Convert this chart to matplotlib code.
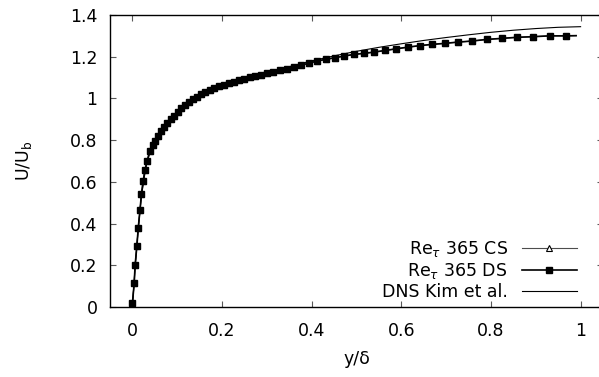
import numpy as np
import matplotlib
matplotlib.use("Agg")
import matplotlib.pyplot as plt

plt.rcParams['font.family'] = ['DejaVu Sans']
plt.rcParams['mathtext.fontset'] = 'dejavusans'
plt.rcParams['font.size'] = 12.5

# Re_tau 365 DS
ds_y = [0.000, 0.004, 0.006, 0.010, 0.013, 0.017, 0.020, 0.024, 0.028, 0.033,
        0.039, 0.045, 0.051, 0.057, 0.064, 0.071, 0.078, 0.085, 0.093, 0.101,
        0.109, 0.117, 0.126, 0.135, 0.144, 0.153, 0.163, 0.173, 0.183, 0.193,
        0.204, 0.215, 0.226, 0.238, 0.250, 0.262, 0.274, 0.287, 0.300, 0.314,
        0.329, 0.344, 0.360, 0.376, 0.393, 0.411, 0.431, 0.451, 0.472, 0.494,
        0.516, 0.539, 0.564, 0.589, 0.615, 0.641, 0.668, 0.697, 0.726, 0.757,
        0.791, 0.825, 0.858, 0.894, 0.931, 0.968, 0.990]
ds_u = [0.018, 0.114, 0.200, 0.292, 0.380, 0.465, 0.540, 0.604, 0.657, 0.700,
        0.750, 0.775, 0.798, 0.820, 0.843, 0.864, 0.883, 0.900, 0.918, 0.936,
        0.952, 0.967, 0.982, 0.996, 1.008, 1.020, 1.031, 1.042, 1.050, 1.058,
        1.066, 1.073, 1.080, 1.087, 1.094, 1.101, 1.107, 1.114, 1.120, 1.127,
        1.135, 1.143, 1.151, 1.160, 1.168, 1.179, 1.187, 1.195, 1.203, 1.211,
        1.216, 1.222, 1.230, 1.238, 1.246, 1.253, 1.259, 1.264, 1.270, 1.275,
        1.283, 1.288, 1.293, 1.296, 1.300, 1.300, 1.301]

# Re_tau 365 CS (lies under the DS curve)
cs_y = ds_y
cs_u = ds_u

# DNS Kim et al.
dns_y = [0.0, 0.005, 0.01, 0.015, 0.02, 0.03, 0.04, 0.05, 0.06, 0.08, 0.1,
         0.12, 0.15, 0.2, 0.25, 0.3, 0.35, 0.4, 0.45, 0.5, 0.55, 0.6, 0.65,
         0.7, 0.75, 0.8, 0.85, 0.9, 0.95, 1.0]
dns_u = [0.0, 0.16, 0.30, 0.42, 0.53, 0.67, 0.75, 0.80, 0.835, 0.89, 0.935,
         0.972, 1.012, 1.063, 1.098, 1.124, 1.152, 1.180, 1.204, 1.226, 1.245,
         1.262, 1.278, 1.292, 1.305, 1.317, 1.327, 1.335, 1.341, 1.344]

fig = plt.figure(figsize=(5.99, 3.77), dpi=100)
ax = fig.add_axes([110/599, 70/377, 493/599, 292/377])

ax.plot(cs_y, cs_u, color='0.3', lw=0.8, marker='^', ms=4, mfc='white',
        mec='black', mew=0.8, markevery=list(range(len(cs_y) - 1)),
        label=r'Re$_{\tau}$ 365 CS', zorder=1)
ax.plot(ds_y, ds_u, color='black', lw=1.2, marker='s', ms=4.8,
        markevery=list(range(len(ds_y) - 1)),
        label=r'Re$_{\tau}$ 365 DS', zorder=3)
ax.plot(dns_y, dns_u, color='black', lw=0.8, label='DNS Kim et al.', zorder=2)

ax.set_xlim(-0.05, 1.05)
ax.set_ylim(0, 1.4)
ax.set_xticks([0, 0.2, 0.4, 0.6, 0.8, 1])
ax.set_xticklabels(['0', '0.2', '0.4', '0.6', '0.8', '1'])
ax.set_yticks([0, 0.2, 0.4, 0.6, 0.8, 1, 1.2, 1.4])
ax.set_yticklabels(['0', '0.2', '0.4', '0.6', '0.8', '1', '1.2', '1.4'])
ax.tick_params(direction='in', top=True, right=True, length=4, width=0.8,
               color='0.35')
ax.tick_params(axis='x', pad=11)
ax.tick_params(axis='y', pad=9)
for s in ax.spines.values():
    s.set_linewidth(1.0)

ax.set_xlabel('y/δ', labelpad=7)
ax.set_ylabel(r'U/U$_\mathrm{b}$', labelpad=26)

ax.legend(loc='lower right', bbox_to_anchor=(0.965, -0.01), frameon=False,
          markerfirst=False, numpoints=1, handlelength=3.2,
          handletextpad=0.8, labelspacing=0.12, borderpad=0.0)

fig.savefig('out.png', dpi=100)
